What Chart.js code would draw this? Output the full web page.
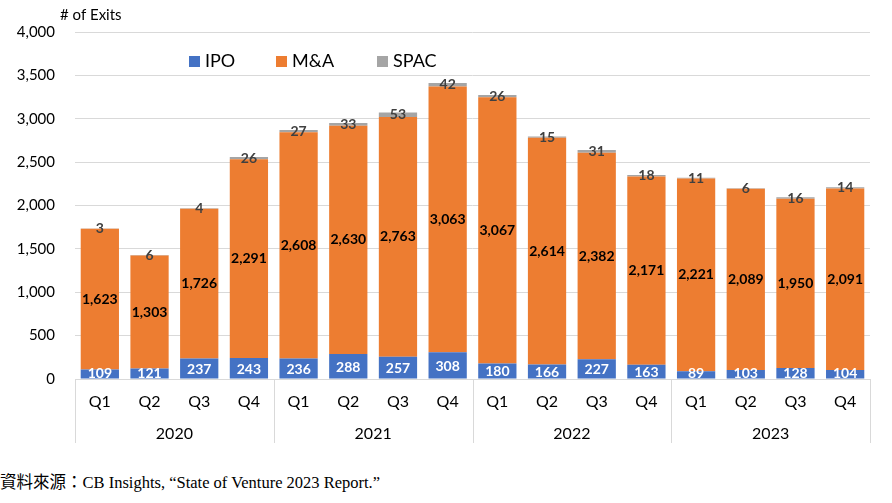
<!DOCTYPE html>
<html lang="zh-Hant">
<head>
<meta charset="UTF-8">
<title>Exits</title>
<script src="https://cdn.jsdelivr.net/npm/chart.js"></script>
<style>
  body { margin: 0; background: #fff; }
  .wrap { position: relative; width: 892px; height: 455px; }
  .fuente {
    position: absolute; left: 0; top: 469px;
    font-family: "Liberation Serif", "Noto Sans CJK TC", serif;
    font-size: 16.5px; color: #000; white-space: nowrap;
  }
</style>
</head>
<body>
<div class="wrap"><canvas id="grafico" width="892" height="455"></canvas></div>
<div class="fuente">資料來源：CB Insights, “State of Venture 2023 Report.”</div>

<script>
  var anos = ['2020', '2021', '2022', '2023']
  var trimestres = ['Q1', 'Q2', 'Q3', 'Q4']
  var categorias = []
  for (var a = 0; a < anos.length; a++) {
    for (var t = 0; t < trimestres.length; t++) categorias.push(trimestres[t])
  }

  var ipo = [109, 121, 237, 243, 236, 288, 257, 308, 180, 166, 227, 163, 89, 103, 128, 104]
  var ma = [1623, 1303, 1726, 2291, 2608, 2630, 2763, 3063, 3067, 2614, 2382, 2171, 2221, 2089, 1950, 2091]
  var spac = [3, 6, 4, 26, 27, 33, 53, 42, 26, 15, 31, 18, 11, 6, 16, 14]

  var fonte = 'Lato, "Noto Sans", sans-serif'
  var corGrade = '#d9d9d9'

  // rótulos dentro das barras
  var rotulos = {
    id: 'rotulos',
    afterDatasetsDraw: function (chart) {
      var c = chart.ctx
      var cores = ['#ffffff', '#000000', '#404040']
      c.save()
      c.textAlign = 'center'
      c.textBaseline = 'middle'
      c.font = 'bold 14px ' + fonte
      chart.data.datasets.forEach(function (ds, i) {
        var meta = chart.getDatasetMeta(i)
        meta.data.forEach(function (bar, j) {
          var p = bar.getProps(['x', 'y', 'base'], true)
          var y = (p.y + p.base) / 2
          if (i === 0) y = Math.min(y + 1, p.base - 5)
          c.fillStyle = cores[i]
          c.fillText(ds.data[j].toLocaleString('en-US'), p.x, y)
        })
      })
      c.restore()
    }
  }

  // anos, divisórias, legenda e título do eixo
  var extras = {
    id: 'extras',
    afterDraw: function (chart) {
      var c = chart.ctx
      var x = chart.scales.x
      var area = chart.chartArea
      var passo = (area.right - area.left) / categorias.length
      c.save()
      c.strokeStyle = corGrade
      c.lineWidth = 1
      for (var g = 0; g <= anos.length; g++) {
        var xl = Math.round(area.left + g * 4 * passo) + 0.5
        c.beginPath()
        c.moveTo(xl, area.bottom)
        c.lineTo(xl, 443)
        c.stroke()
      }
      c.fillStyle = '#000'
      c.font = '16px ' + fonte
      c.textAlign = 'center'
      c.textBaseline = 'middle'
      for (var k = 0; k < anos.length; k++) {
        var xc = (x.getPixelForValue(k * 4) + x.getPixelForValue(k * 4 + 3)) / 2
        c.fillText(anos[k], xc, 434)
      }

      c.textAlign = 'left'
      c.font = '15px ' + fonte
      c.fillText('# of Exits', 60, 15)

      var itens = [[189, 'IPO'], [276, 'M&A'], [377, 'SPAC']]
      c.font = '18px ' + fonte
      itens.forEach(function (it, i) {
        c.fillStyle = chart.data.datasets[i].backgroundColor
        c.fillRect(it[0], 56, 11, 11)
        c.fillStyle = '#000'
        c.fillText(it[1], it[0] + 16, 61.5)
      })
      c.restore()
    }
  }

  var meuGrafico = new Chart(document.getElementById('grafico'), {
    type: 'bar',
    data: {
      labels: categorias,
      datasets: [
        { label: 'IPO', data: ipo, backgroundColor: '#4472c4' },
        { label: 'M&A', data: ma, backgroundColor: '#ed7d31' },
        { label: 'SPAC', data: spac, backgroundColor: '#a5a5a5' }
      ]
    },
    options: {
      responsive: false,
      animation: false,
      layout: { padding: { top: 32, right: 22, bottom: 12, left: 0 } },
      datasets: { bar: { categoryPercentage: 1, barPercentage: 0.77 } },
      plugins: {
        legend: { display: false },
        tooltip: { enabled: false }
      },
      scales: {
        x: {
          stacked: true,
          afterFit: function (s) { s.height = 64 },
          grid: { display: false },
          border: { color: corGrade },
          ticks: { color: '#000', padding: 5, font: { family: fonte, size: 16 } }
        },
        y: {
          stacked: true,
          min: 0,
          max: 4000,
          afterFit: function (s) { s.width = 75 },
          grid: { color: corGrade, drawTicks: false },
          border: { display: false },
          ticks: {
            stepSize: 500,
            padding: 20,
            color: '#000',
            font: { family: fonte, size: 15 },
            callback: function (v) { return v.toLocaleString('en-US') }
          }
        }
      }
    },
    plugins: [rotulos, extras]
  })
</script>
</body>
</html>
